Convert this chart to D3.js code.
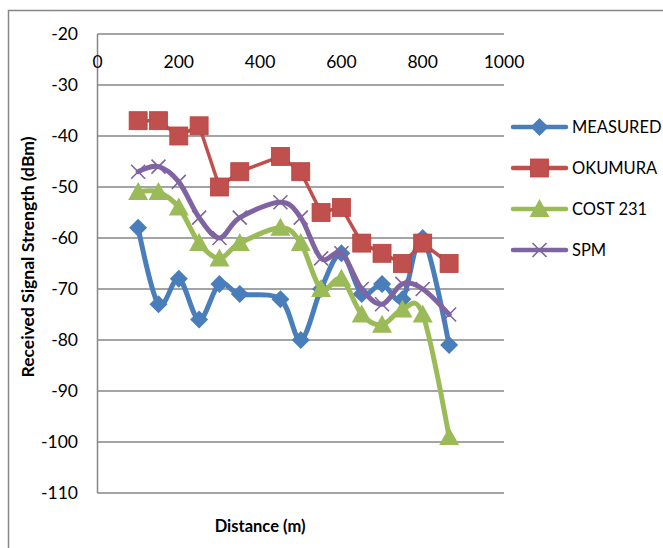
<!DOCTYPE html>
<html>
<head>
<meta charset="utf-8">
<script src="https://cdn.jsdelivr.net/npm/d3@7"></script>
<style>
  body { margin: 0; background: #fff; }
  svg { display: block; font-family: Lato, "Open Sans", sans-serif; }
</style>
</head>
<body>
<div class="chart"></div>
<script>
var width = 663, height = 548;

// distance (m) and received signal strength (dBm)
var distance = [100, 150, 200, 250, 300, 350, 450, 500, 550, 600, 650, 700, 750, 800, 865];
var measured = [-58, -73, -68, -76, -69, -71, -72, -80, -70, -63, -71, -69, -72, -60, -81];
var okumura  = [-37, -37, -40, -38, -50, -47, -44, -47, -55, -54, -61, -63, -65, -61, -65];
var cost231  = [-51, -51, -54, -61, -64, -61, -58, -61, -70, -68, -75, -77, -74, -75, -99];
var spm      = [-47, -46, -49, -56, -60, -56, -53, -56, -64, -63, -70, -73, -69, -70, -75];

var seriesNames = ["MEASURED", "OKUMURA", "COST 231", "SPM"];
var xTicks = [0, 200, 400, 600, 800, 1000];
var yTicks = [-20, -30, -40, -50, -60, -70, -80, -90, -100, -110];

var series = [
  {name: seriesNames[0], values: measured, color: "#4A7EBB", marker: "diamond", smooth: true},
  {name: seriesNames[1], values: okumura,  color: "#C0504D", marker: "square",  smooth: false},
  {name: seriesNames[2], values: cost231,  color: "#9BBB59", marker: "triangle", smooth: true},
  {name: seriesNames[3], values: spm,      color: "#8064A2", marker: "x",       smooth: true}
];

var svg = d3.select(".chart").append("svg").attr("width", width).attr("height", height);

// outer chart frame
svg.append("rect").attr("x", 8.5).attr("y", 10.5).attr("width", 700).attr("height", 600)
  .attr("fill", "none").attr("stroke", "#868686").attr("stroke-width", 1.5);

var x = d3.scaleLinear().domain([0, 1000]).range([97.5, 504]);
var y = d3.scaleLinear().domain([-20, -110]).range([34, 493]);

// gridlines
svg.append("g").selectAll("line").data(yTicks).enter().append("line")
  .attr("x1", x(0)).attr("x2", x(1000))
  .attr("y1", function(d) { return y(d); }).attr("y2", function(d) { return y(d); })
  .attr("stroke", "#868686").attr("stroke-width", 1.5);

// vertical axis line
svg.append("line").attr("x1", x(0)).attr("x2", x(0)).attr("y1", y(-20)).attr("y2", y(-110))
  .attr("stroke", "#868686").attr("stroke-width", 1.5);

// y tick labels
svg.append("g").selectAll("text").data(yTicks).enter().append("text")
  .attr("x", 78).attr("y", function(d) { return y(d); })
  .attr("dy", "0.35em").attr("text-anchor", "end")
  .style("font-size", "17.5px").style("fill", "#000")
  .text(function(d) { return d; });

// x tick labels (shown under the top axis)
svg.append("g").selectAll("text").data(xTicks).enter().append("text")
  .attr("x", function(d) { return x(d); }).attr("y", 62)
  .attr("dy", "0.35em").attr("text-anchor", "middle")
  .style("font-size", "17.5px").style("fill", "#000")
  .text(function(d) { return d; });

// axis titles
svg.append("text").attr("x", x(400)).attr("y", 526).attr("dy", "0.35em")
  .attr("text-anchor", "middle").style("font-size", "16.5px").style("font-weight", "bold")
  .text("Distance (m)");

svg.append("text").attr("transform", "translate(28,257) rotate(-90)").attr("dy", "0.35em")
  .attr("text-anchor", "middle").style("font-size", "17.5px").style("font-weight", "bold")
  .text("Received Signal Strength (dBm)");

function drawMarker(sel, type, color) {
  if (type === "diamond") {
    sel.append("path").attr("d", "M0,-9L9,0L0,9L-9,0Z").attr("fill", color);
  } else if (type === "square") {
    sel.append("rect").attr("x", -9).attr("y", -9).attr("width", 18).attr("height", 18)
      .attr("fill", color).attr("stroke", "#B9413E").attr("stroke-width", 0.8);
  } else if (type === "triangle") {
    sel.append("path").attr("d", "M0,-10L10,8L-10,8Z").attr("fill", color);
  } else {
    sel.append("path").attr("d", "M-7,-7L7,7M-7,7L7,-7").attr("stroke", color)
      .attr("stroke-width", 1.6).attr("fill", "none");
  }
}

var smoothLine = d3.line().curve(d3.curveCardinal.tension(0))
  .x(function(d, i) { return x(distance[i]); }).y(function(d) { return y(d); });
var straightLine = d3.line()
  .x(function(d, i) { return x(distance[i]); }).y(function(d) { return y(d); });

series.forEach(function(s) {
  var g = svg.append("g").attr("class", "series");
  g.append("path").datum(s.values)
    .attr("d", s.smooth ? smoothLine : straightLine)
    .attr("fill", "none").attr("stroke", s.color)
    .attr("stroke-width", s.marker === "square" ? 3.5 : 5)
    .attr("stroke-linejoin", "round").attr("stroke-linecap", "round");
  g.selectAll("g.mk").data(s.values).enter().append("g").attr("class", "mk")
    .attr("transform", function(d, i) { return "translate(" + x(distance[i]) + "," + y(d) + ")"; })
    .each(function() { drawMarker(d3.select(this), s.marker, s.color); });
});

// legend
var legend = svg.append("g").selectAll("g").data(series).enter().append("g")
  .attr("transform", function(d, i) { return "translate(0," + (127 + i * 41) + ")"; });
legend.append("line").attr("x1", 513).attr("x2", 566).attr("y1", 0).attr("y2", 0)
  .attr("stroke", function(d) { return d.color; }).attr("stroke-width", 4.5)
  .attr("stroke-linecap", "round");
legend.append("g").attr("transform", "translate(539.5,0)")
  .each(function(d) { drawMarker(d3.select(this), d.marker, d.color); });
legend.append("text").attr("x", 572).attr("y", 0).attr("dy", "0.35em")
  .style("font-size", "16.5px").text(function(d) { return d.name; });
</script>
</body>
</html>
